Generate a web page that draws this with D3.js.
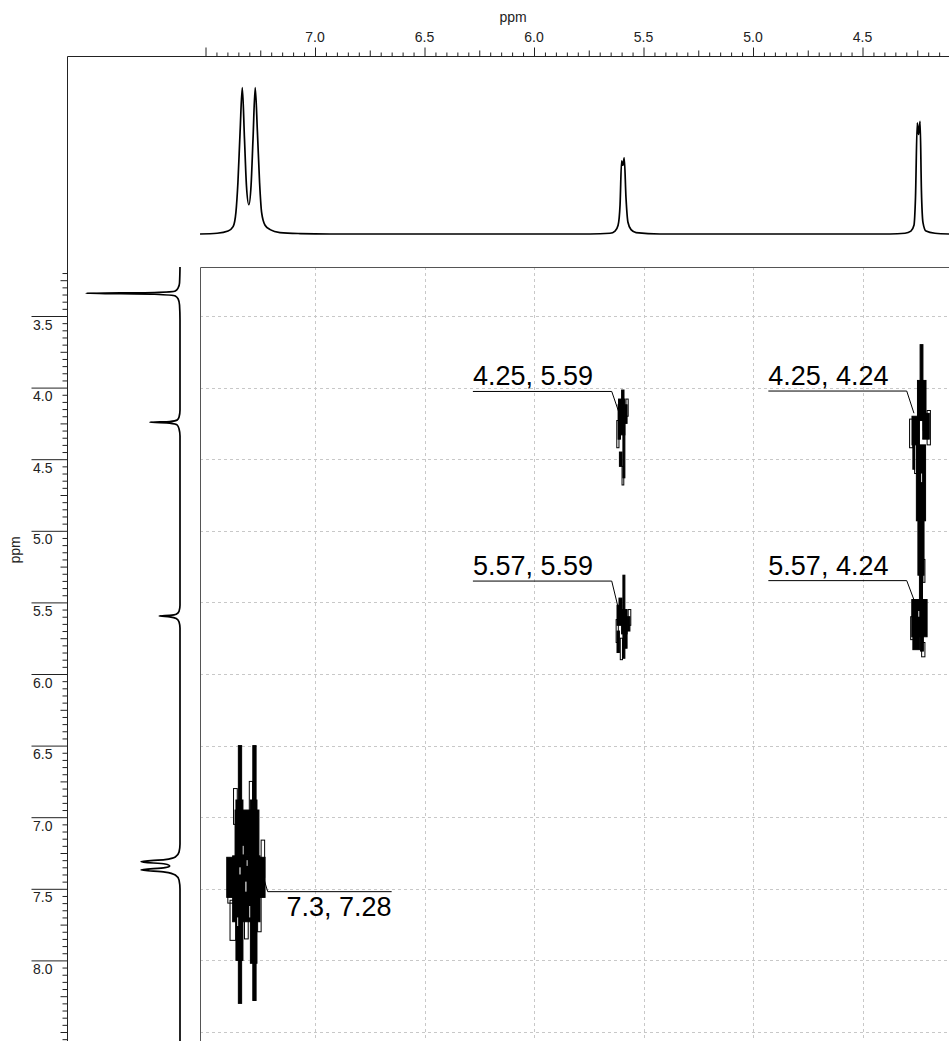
<!DOCTYPE html>
<html>
<head>
<meta charset="utf-8">
<script src="https://cdn.jsdelivr.net/npm/d3@7"></script>
<style>
  body { margin: 0; background: #fff; }
  svg { font-family: "Liberation Sans", Arial, sans-serif; }
</style>
</head>
<body>
<svg id="chart" width="949" height="1041"></svg>
<script>
// top (F2) 1D projection: [ppm, intensity]
var topSpectrum = [
  [7.525, 0], [7.447, 0.5], [7.397, 2], [7.374, 5], [7.361, 15], [7.352, 35],
  [7.342, 70], [7.332, 100], [7.322, 65], [7.313, 33], [7.302, 20], [7.292, 33],
  [7.283, 65], [7.273, 100], [7.263, 70], [7.253, 35], [7.244, 15], [7.228, 6],
  [7.205, 3], [7.160, 1], [7.068, 0.3], [6.932, 0],
  [5.744, 0], [5.653, 0.5], [5.630, 2], [5.616, 6], [5.607, 20], [5.600, 50],
  [5.594, 47], [5.588, 52], [5.580, 25], [5.571, 8], [5.557, 3], [5.534, 1], [5.425, 0],
  [4.374, 0], [4.306, 0.5], [4.279, 2], [4.265, 6], [4.258, 25], [4.250, 76],
  [4.244, 68], [4.237, 77], [4.231, 30], [4.224, 8], [4.210, 2], [4.169, 0.5], [4.105, 0]
];

// left (F1) 1D projection: [ppm, intensity]
var leftSpectrum = [
  [3.158, 0], [3.270, 0.5], [3.304, 2], [3.325, 5], [3.336, 27], [3.341, 100],
  [3.348, 27], [3.360, 5], [3.381, 2], [3.423, 0.5], [3.528, 0],
  [4.156, 0], [4.205, 1], [4.226, 3], [4.237, 11], [4.242, 32], [4.248, 11],
  [4.261, 3], [4.289, 1], [4.338, 0],
  [5.520, 0], [5.561, 1], [5.582, 4], [5.590, 11], [5.595, 22], [5.601, 11],
  [5.613, 4], [5.637, 1], [5.679, 0],
  [7.188, 0], [7.243, 1], [7.278, 5], [7.296, 16], [7.311, 41.5], [7.327, 16],
  [7.340, 11], [7.352, 16], [7.369, 41.5], [7.383, 16], [7.404, 5], [7.439, 1],
  [7.502, 0], [8.570, 0]
];

var xMajorTicks = [7.5, 7.0, 6.5, 6.0, 5.5, 5.0, 4.5];
var xTickLabels = ["", "7.0", "6.5", "6.0", "5.5", "5.0", "4.5"];
var yMajorTicks = [3.5, 4.0, 4.5, 5.0, 5.5, 6.0, 6.5, 7.0, 7.5, 8.0];
var yTickLabels = ["3.5", "4.0", "4.5", "5.0", "5.5", "6.0", "6.5", "7.0", "7.5", "8.0"];
var gridX = [7.0, 6.5, 6.0, 5.5, 5.0, 4.5];
var gridY = [3.5, 4.0, 4.5, 5.0, 5.5, 6.0, 6.5, 7.0, 7.5, 8.0, 8.5];

// contour blocks of the cross peaks: [x1, x2, y1, y2] in ppm (filled)
var peakA = [ // 5.59 / 4.25
  [5.600, 5.589, 4.017, 4.300], [5.616, 5.605, 4.120, 4.360], [5.594, 5.585, 4.200, 4.630],
  [5.585, 5.575, 4.120, 4.250], [5.614, 5.585, 4.080, 4.330], [5.610, 5.598, 4.450, 4.550]
];
var peakB = [ // 5.59 / 5.57
  [5.594, 5.585, 5.310, 5.890], [5.612, 5.598, 5.470, 5.560], [5.621, 5.600, 5.520, 5.660],
  [5.600, 5.575, 5.550, 5.720], [5.575, 5.562, 5.600, 5.700], [5.621, 5.610, 5.700, 5.850],
  [5.585, 5.575, 5.700, 5.820]
];
var peakC = [ // 4.24 column
  [4.237, 4.224, 3.700, 4.100], [4.249, 4.210, 3.950, 4.230], [4.274, 4.240, 4.200, 4.400],
  [4.225, 4.195, 4.180, 4.360], [4.270, 4.262, 4.350, 4.570], [4.254, 4.212, 4.400, 4.930],
  [4.247, 4.219, 4.930, 5.310], [4.240, 4.226, 5.300, 5.500], [4.275, 4.205, 5.480, 5.740],
  [4.270, 4.240, 5.720, 5.830], [4.235, 4.222, 5.720, 5.840]
];
var peakD = [ // 7.28 / 7.30
  [7.350, 7.335, 6.500, 8.300], [7.284, 7.269, 6.500, 8.280], [7.361, 7.329, 6.880, 8.000],
  [7.295, 7.265, 6.880, 8.020], [7.365, 7.256, 6.950, 7.270], [7.376, 7.251, 7.270, 7.730],
  [7.403, 7.228, 7.280, 7.560]
];

// outer contour levels (outlines only), same layout
var outlineA = [[5.622, 5.612, 4.230, 4.420], [5.580, 5.570, 4.080, 4.200], [5.598, 5.590, 4.550, 4.680]];
var outlineB = [[5.625, 5.615, 5.620, 5.780], [5.570, 5.558, 5.550, 5.660], [5.606, 5.596, 5.750, 5.900]];
var outlineC = [
  [4.285, 4.270, 4.220, 4.420], [4.205, 4.190, 4.160, 4.400], [4.224, 4.215, 5.200, 5.360],
  [4.280, 4.265, 5.600, 5.760], [4.230, 4.215, 5.780, 5.880], [4.262, 4.252, 4.380, 4.600]
];
var outlineD = [
  [7.398, 7.372, 7.290, 7.600], [7.246, 7.230, 7.160, 7.420], [7.388, 7.362, 7.580, 7.860],
  [7.262, 7.246, 7.550, 7.800], [7.372, 7.355, 6.800, 7.050], [7.300, 7.285, 6.750, 7.000],
  [7.322, 7.305, 7.100, 7.850]
];
// small holes between contour lines inside the dense parts
var holesD = [
  [7.345, 7.340, 7.350, 7.400], [7.318, 7.313, 7.450, 7.520], [7.300, 7.296, 7.620, 7.700],
  [7.330, 7.326, 7.200, 7.260], [7.355, 7.351, 7.700, 7.760], [7.312, 7.308, 7.300, 7.340]
];
var holesC = [[4.232, 4.228, 4.600, 4.660], [4.245, 4.241, 5.560, 5.600], [4.232, 4.228, 4.300, 4.350]];

// peak annotations, positions in ppm
var peakLabels = [
  { text: "4.25, 5.59", px: 5.611, py: 4.179, x1: 6.279, x2: 5.645, ly: 4.027, side: "above" },
  { text: "5.57, 5.59", px: 5.615, py: 5.541, x1: 6.279, x2: 5.645, ly: 5.351, side: "above" },
  { text: "4.25, 4.24", px: 4.265, py: 4.179, x1: 4.930, x2: 4.298, ly: 4.024, side: "above" },
  { text: "5.57, 4.24", px: 4.256, py: 5.518, x1: 4.930, x2: 4.298, ly: 5.348, side: "above" },
  { text: "7.3, 7.28", px: 7.243, py: 7.381, x1: 7.216, x2: 6.650, ly: 7.520, side: "below" }
];

var svg = d3.select("#chart"),
    W = +svg.attr("width"),
    H = +svg.attr("height");

var plotLeft = 200, plotTop = 267, frameLeft = 67, frameTop = 56;

var x = d3.scaleLinear().domain([7.0, 4.5]).range([315, 862.5]);
var y = d3.scaleLinear().domain([3.5, 8.0]).range([316, 960.4]);
var topI = d3.scaleLinear().domain([0, 100]).range([234, 87.7]);
var leftI = d3.scaleLinear().domain([0, 100]).range([180, 86]);

svg.append("defs").append("clipPath").attr("id", "plotClip")
  .append("rect").attr("x", plotLeft).attr("y", plotTop)
  .attr("width", W - plotLeft).attr("height", H - plotTop);

// grid
var grid = svg.append("g").attr("clip-path", "url(#plotClip)")
  .attr("stroke", "#c8c8c8").attr("stroke-dasharray", "3,3").attr("stroke-width", 1);
grid.selectAll(".gx").data(gridX).enter().append("line")
  .attr("x1", function (d) { return Math.round(x(d)) + 0.5; })
  .attr("x2", function (d) { return Math.round(x(d)) + 0.5; })
  .attr("y1", plotTop).attr("y2", H);
grid.selectAll(".gy").data(gridY).enter().append("line")
  .attr("y1", function (d) { return Math.round(y(d)) + 0.5; })
  .attr("y2", function (d) { return Math.round(y(d)) + 0.5; })
  .attr("x1", plotLeft).attr("x2", W);

// 2D plot frame
svg.append("path")
  .attr("d", "M" + (plotLeft + 0.5) + "," + H + "V" + (plotTop + 0.5) + "H" + W)
  .attr("fill", "none").attr("stroke", "#555").attr("stroke-width", 1);

// outer frame
svg.append("path")
  .attr("d", "M" + (frameLeft + 0.5) + "," + H + "V" + (frameTop + 0.5) + "H" + W)
  .attr("fill", "none").attr("stroke", "#222").attr("stroke-width", 1);

// top axis ticks
function range(a, b, step) {
  var out = [];
  for (var v = a; v >= b - 1e-9; v -= step) out.push(Math.round(v * 100) / 100);
  return out;
}
var xMinor = range(7.5, 4.1, 0.05);
var topAxis = svg.append("g").attr("transform", "translate(0," + (frameTop + 0.5) + ")");
topAxis.call(d3.axisTop(x).tickValues(xMinor).tickFormat("")
  .tickSize(4).tickSizeOuter(0));
topAxis.selectAll(".tick line").attr("y2", function (d) {
  var m = Math.round(d * 100);
  if (m % 50 === 0) return -9;
  if (m % 25 === 0) return -6;
  return -4;
});
topAxis.select(".domain").remove();
topAxis.selectAll(".tick line").attr("stroke", "#222");

var topLabels = svg.append("g").attr("font-size", 14).attr("fill", "#222")
  .attr("text-anchor", "middle");
topLabels.selectAll("text").data(xMajorTicks).enter().append("text")
  .attr("x", function (d) { return x(d); })
  .attr("y", 42)
  .text(function (d, i) { return xTickLabels[i]; });
svg.append("text").attr("x", 513).attr("y", 22).attr("font-size", 14)
  .attr("text-anchor", "middle").attr("fill", "#222").text("ppm");

// left axis ticks
var yMinor = [];
for (var k = 320; k <= 857; k += 5) yMinor.push(k / 100);
var leftAxis = svg.append("g").attr("transform", "translate(" + (frameLeft + 0.5) + ",0)");
leftAxis.call(d3.axisLeft(y).tickValues(yMinor).tickFormat("").tickSize(5).tickSizeOuter(0));
leftAxis.select(".domain").remove();
leftAxis.selectAll(".tick line").attr("stroke", "#222").attr("x2", function (d) {
  var m = Math.round(d * 100);
  if (m % 50 === 0 && m <= 800) return -36;
  if (m % 25 === 0) return -7;
  return -5;
});
var leftLabels = svg.append("g").attr("font-size", 14).attr("fill", "#222");
leftLabels.selectAll("text").data(yMajorTicks).enter().append("text")
  .attr("x", 33)
  .attr("y", function (d) { return y(d) + 13.5; })
  .text(function (d, i) { return yTickLabels[i]; });
svg.append("text").attr("transform", "translate(20,550) rotate(-90)")
  .attr("font-size", 14).attr("text-anchor", "middle").attr("fill", "#222").text("ppm");

// 1D projections
var topLine = d3.line()
  .x(function (d) { return x(d[0]); })
  .y(function (d) { return topI(d[1]); })
  .curve(d3.curveMonotoneX);
svg.append("path").datum(topSpectrum).attr("d", topLine)
  .attr("fill", "none").attr("stroke", "#000").attr("stroke-width", 1.7);

var leftLine = d3.line()
  .x(function (d) { return leftI(d[1]); })
  .y(function (d) { return y(d[0]); })
  .curve(d3.curveMonotoneY);
svg.append("path").datum(leftSpectrum).attr("d", leftLine)
  .attr("fill", "none").attr("stroke", "#000").attr("stroke-width", 1.7);

// contours
var contours = svg.append("g").attr("clip-path", "url(#plotClip)");
function drawBlocks(blocks, fill, stroke) {
  contours.append("g").selectAll("rect").data(blocks).enter().append("rect")
    .attr("x", function (d) { return x(d[0]); })
    .attr("width", function (d) { return x(d[1]) - x(d[0]); })
    .attr("y", function (d) { return y(d[2]); })
    .attr("height", function (d) { return y(d[3]) - y(d[2]); })
    .attr("fill", fill).attr("stroke", stroke).attr("stroke-width", 1);
}
[outlineA, outlineB, outlineC, outlineD].forEach(function (b) { drawBlocks(b, "none", "#000"); });
[peakA, peakB, peakC, peakD].forEach(function (b) { drawBlocks(b, "#000", "#000"); });
[holesC, holesD].forEach(function (b) { drawBlocks(b, "#fff", "none"); });

// peak labels
var ann = svg.append("g");
peakLabels.forEach(function (p) {
  var lx = p.side === "above" ? p.x2 : p.x1;
  ann.append("path")
    .attr("d", "M" + x(p.x1) + "," + y(p.ly) + "H" + x(p.x2) +
      "M" + x(lx) + "," + y(p.ly) + "L" + x(p.px) + "," + y(p.py))
    .attr("fill", "none").attr("stroke", "#000").attr("stroke-width", 1);
  ann.append("text")
    .attr("x", p.side === "above" ? x(p.x1) : x(p.x2))
    .attr("y", p.side === "above" ? y(p.ly) - 6 : y(p.ly) + 24)
    .attr("text-anchor", p.side === "above" ? "start" : "end")
    .attr("font-size", 27).attr("fill", "#000")
    .text(p.text);
});
</script>
</body>
</html>
